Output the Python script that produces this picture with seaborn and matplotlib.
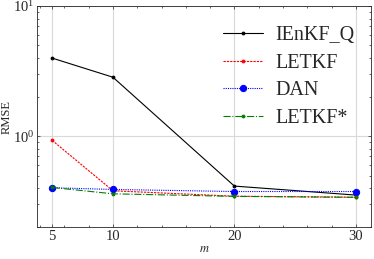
import numpy as np
import pandas as pd
import matplotlib
matplotlib.use('Agg')
import matplotlib.pyplot as plt
from matplotlib.ticker import MultipleLocator, FixedLocator, LogLocator, NullFormatter
import seaborn as sns

# 数据
m_values = [5, 10, 20, 30]
ienkf_q = [3.98, 2.84, 0.415, 0.354]
letkf = [0.93, 0.382, 0.347, 0.341]
dan = [0.403, 0.391, 0.377, 0.377]
letkf_star = [0.405, 0.362, 0.346, 0.340]

sns.set_theme(style='ticks')
plt.rcParams['font.family'] = ['Liberation Serif', 'DejaVu Serif']
plt.rcParams['mathtext.fontset'] = 'stix'
plt.rcParams['xtick.direction'] = 'in'
plt.rcParams['ytick.direction'] = 'in'
plt.rcParams['xtick.top'] = True
plt.rcParams['ytick.right'] = True

df = pd.DataFrame({'m': m_values, 'IEnKF_Q': ienkf_q, 'LETKF': letkf,
                   'DAN': dan, 'LETKF*': letkf_star})

fig, ax = plt.subplots(figsize=(3.74, 2.59), dpi=100)

styles = {
    'IEnKF_Q': dict(color='black', linestyle='-', marker='.', markersize=4),
    'LETKF': dict(color='red', linestyle=(0, (2, 1)), marker='.', markersize=4),
    'DAN': dict(color='blue', linestyle=(0, (1, 1)), marker='o', markersize=4.5),
    'LETKF*': dict(color='green', linestyle='-.', marker='.', markersize=4),
}
for name, st in styles.items():
    sns.lineplot(data=df, x='m', y=name, ax=ax, label=name, linewidth=0.8,
                 markeredgecolor=st['color'], **st)

ax.set_yscale('log')
ax.set_ylim(0.2, 10)
ax.set_xlim(3.75, 31.25)
ax.xaxis.set_major_locator(FixedLocator(m_values))
ax.xaxis.set_minor_locator(MultipleLocator(2))
ax.yaxis.set_minor_locator(LogLocator(base=10, subs=np.arange(2, 10)))
ax.yaxis.set_minor_formatter(NullFormatter())
ax.tick_params(which='major', length=2.5, width=0.5, labelsize=10.5, pad=2)
ax.tick_params(which='minor', length=1.5, width=0.5)
for sp in ax.spines.values():
    sp.set_linewidth(0.6)
ax.grid(True, which='major', color='#d9d9d9', linewidth=0.8)
ax.set_axisbelow(True)

ax.set_xlabel('$m$', fontsize=9, labelpad=0)
ax.set_ylabel('RMSE', fontsize=9)
ax.yaxis.set_label_coords(-0.072, 0.5)
ax.legend(frameon=False, fontsize=14.5, handlelength=2.0, loc='upper right',
          bbox_to_anchor=(0.975, 0.945), borderaxespad=0,
          labelspacing=0.42, handletextpad=0.6)

fig.subplots_adjust(left=0.099, right=0.992, bottom=0.122, top=0.977)
fig.savefig('out.png', dpi=100)
